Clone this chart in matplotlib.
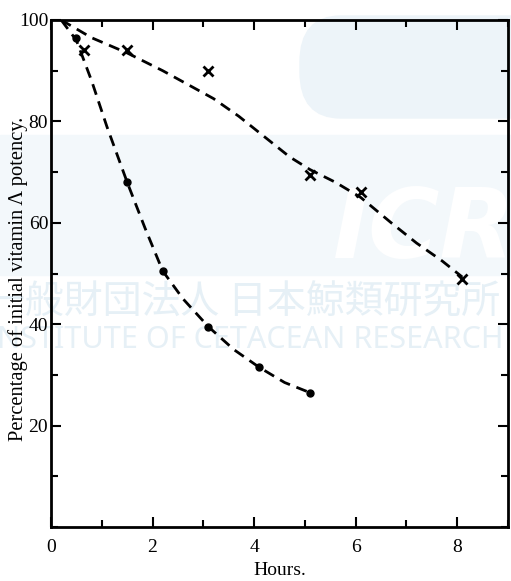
import matplotlib.pyplot as plt
from matplotlib.patches import FancyBboxPatch, Rectangle

# measured points
circle_x = [0.5, 1.5, 2.2, 3.1, 4.1, 5.1]
circle_y = [96.5, 68, 50.5, 39.5, 31.5, 26.5]
cross_x = [0.65, 1.5, 3.1, 5.1, 6.1, 8.1]
cross_y = [94, 94, 90, 69.5, 66, 49]

# hand-drawn dashed curves
fast_x = [0.2, 0.5, 0.8, 1.1, 1.5, 1.85, 2.2, 2.6, 3.1, 3.6, 4.1, 4.6, 5.1]
fast_y = [100, 96, 88, 79, 68, 59, 50.5, 45, 39.5, 35, 31.5, 28.5, 26.5]
slow_x = [0.2, 0.8, 1.5, 2.2, 3.2, 3.7, 4.2, 4.7, 5.1, 5.6, 6.1, 6.7, 7.2, 7.7, 8.1]
slow_y = [100, 96.5, 93.5, 90, 84.5, 81, 77, 73, 70.5, 68, 65, 60, 56, 52.5, 49.3]

xticks = [0, 2, 4, 6, 8]
yticks = [20, 40, 60, 80, 100]

plt.rcParams['font.family'] = ['Liberation Serif', 'DejaVu Serif']

fig = plt.figure(figsize=(5.11, 5.81), dpi=100)

# faint watermark behind the chart
fig.patches.append(Rectangle((0, 1 - 275 / 581), 1, 140 / 581, transform=fig.transFigure,
                             color='#f3f8fb', zorder=-5))
fig.patches.append(FancyBboxPatch((300 / 511, 1 - 118 / 581), 260 / 511, 102 / 581,
                                  boxstyle='round,pad=0,rounding_size=0.08',
                                  transform=fig.transFigure, color='#edf4f9', zorder=-5))
fig.text(0.83, 1 - 232 / 581, 'ICR', fontsize=70, fontweight='bold', style='italic',
         family='DejaVu Sans', color='white', ha='center', va='center', zorder=-4)
fig.text(500 / 511, 1 - 303 / 581, '一般財団法人 日本鯨類研究所', fontsize=28,
         family=['Noto Sans CJK JP', 'DejaVu Sans'], color='#e6f0f6', ha='right',
         va='center', zorder=-4)
fig.text(503 / 511, 1 - 340 / 581, 'THE INSTITUTE OF CETACEAN RESEARCH', fontsize=22,
         family='Noto Sans', color='#e6f0f6', ha='right', va='center', zorder=-4)

ax = fig.add_axes([51 / 511, 1 - 527 / 581, 457 / 511, 507 / 581])
ax.patch.set_alpha(0)

ax.plot(fast_x, fast_y, color='black', lw=2, ls=(0, (4, 2.5)))
ax.plot(slow_x, slow_y, color='black', lw=2, ls=(0, (4, 2.5)))
ax.plot(circle_x, circle_y, 'o', color='black', ms=5, mfc='black')
ax.plot(cross_x, cross_y, 'x', color='black', ms=7, mew=2)

ax.set_xlim(0, 9)
ax.set_ylim(0, 100)
ax.set_xticks(xticks)
ax.set_yticks(yticks)
ax.set_xticks(range(0, 10), minor=True)
ax.set_yticks(range(0, 101, 10), minor=True)
ax.tick_params(which='both', direction='in', top=True, right=True, width=1.5,
               labelsize=14, pad=9)
ax.tick_params(which='major', length=7)
ax.tick_params(which='minor', length=5)
ax.tick_params(axis='y', pad=2)
for s in ax.spines.values():
    s.set_linewidth(2)

ax.set_xlabel('Hours.', fontsize=14, labelpad=4)
ax.set_ylabel('Percentage of initial vitamin Λ potency.', fontsize=14.8)
ax.yaxis.set_label_coords(-0.05, 0.49)

fig.savefig('out.png', dpi=100)
